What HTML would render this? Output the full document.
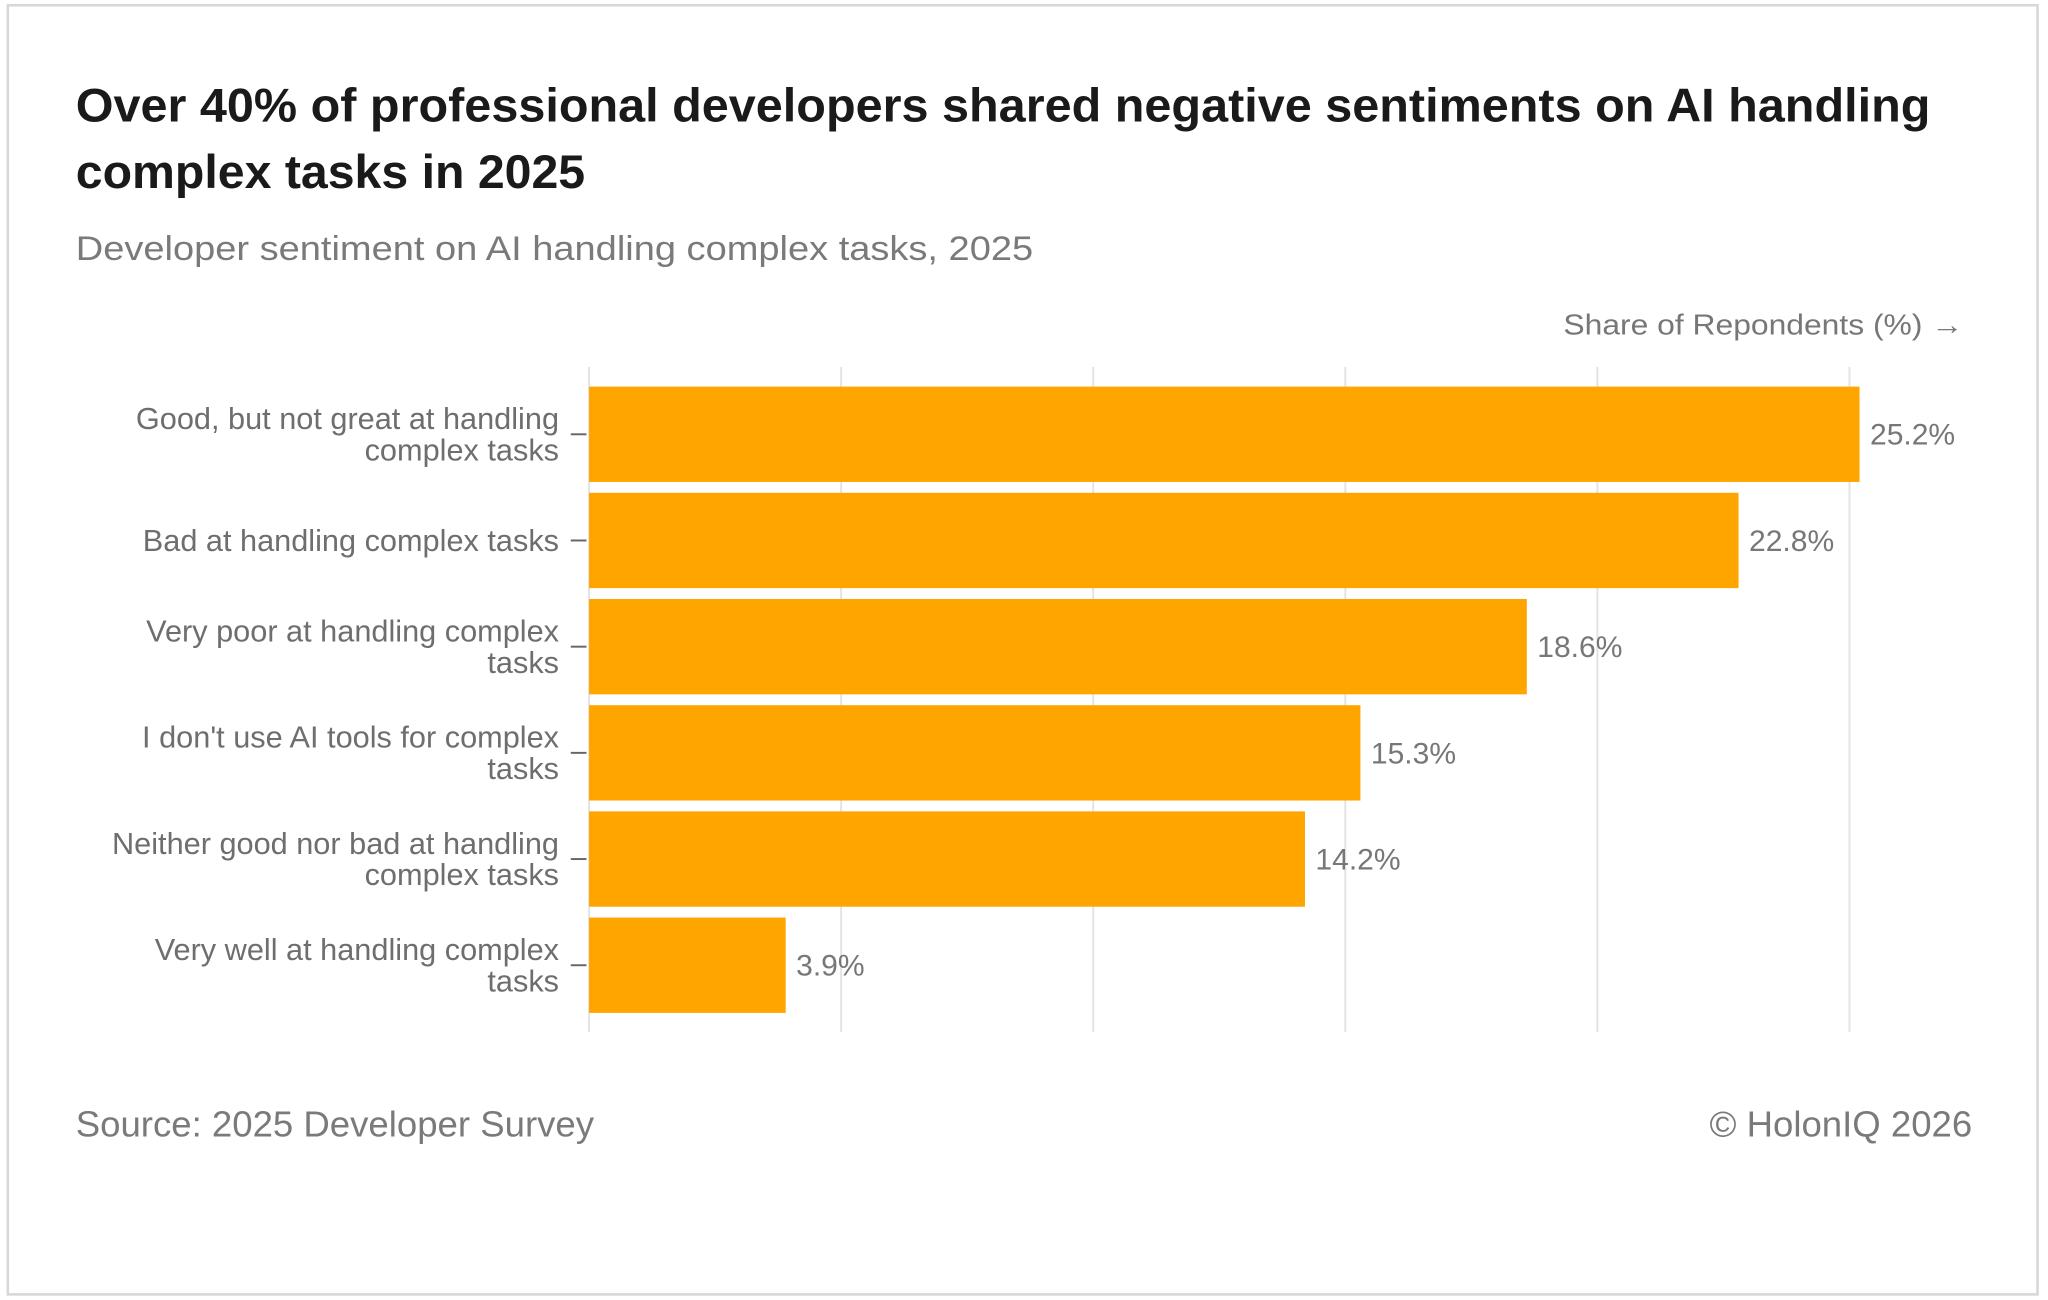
<!DOCTYPE html>
<html><head><meta charset="utf-8"><style>
html,body{margin:0;padding:0;background:#fff;}
svg{display:block;}
text{font-family:"Liberation Sans",sans-serif;}
</style></head><body>
<svg id="chart" width="2048" height="1300" viewBox="0 0 1568 995.3" preserveAspectRatio="none" xmlns="http://www.w3.org/2000/svg">
<rect x="6" y="4" width="1554" height="987" fill="#fff" stroke="#d8d8d8" stroke-width="2"/>
<text x="58" y="93" font-size="36" font-weight="bold" fill="#1a1a1a" textLength="1420" lengthAdjust="spacingAndGlyphs">Over 40% of professional developers shared negative sentiments on AI handling</text>
<text x="58" y="144" font-size="36" font-weight="bold" fill="#1a1a1a" textLength="390" lengthAdjust="spacingAndGlyphs">complex tasks in 2025</text>
<text x="58" y="199" font-size="26" fill="#7a7a7a" textLength="733" lengthAdjust="spacingAndGlyphs">Developer sentiment on AI handling complex tasks, 2025</text>
<text x="1197" y="256" font-size="22" fill="#777" textLength="306" lengthAdjust="spacingAndGlyphs">Share of Repondents (%) →</text>
<g id="grid"></g>
<g id="bars"></g>
<text x="58" y="870" font-size="28" fill="#7a7a7a">Source: 2025 Developer Survey</text>
<text x="1510" y="870" font-size="28" fill="#7a7a7a" text-anchor="end">© HolonIQ 2026</text>
</svg>
<script>
const categories = [["Good, but not great at handling","complex tasks"],["Bad at handling complex tasks"],["Very poor at handling complex","tasks"],["I don't use AI tools for complex","tasks"],["Neither good nor bad at handling","complex tasks"],["Very well at handling complex","tasks"]];
const values = [25.2,22.8,18.6,15.3,14.2,3.9];
const valueLabels = ["25.2%","22.8%","18.6%","15.3%","14.2%","3.9%"];
const gridTicks = [0,5,10,15,20,25];
const NS="http://www.w3.org/2000/svg";
const x0=451, pxPer=38.6;
const xs=v=>x0+v*pxPer;
const bandStart=292, step=81.3, barH=73;
const ys=i=>bandStart+i*step;
function mk(tag,attrs,parent){const e=document.createElementNS(NS,tag);for(const k in attrs)e.setAttribute(k,attrs[k]);parent.appendChild(e);return e;}
const grid=document.getElementById('grid'), bars=document.getElementById('bars');
gridTicks.forEach(t=>{
  const l=mk('line',{x1:xs(t),x2:xs(t),y1:281,y2:790,stroke:'#e3e3e3','stroke-width':1.5},grid);
  
  
});
values.forEach((v,i)=>{
  const y=ys(i)+4;
  const r=mk('rect',{x:x0,y:y,width:xs(v)-x0,height:barH,fill:'#ffa500'},bars);
  
  
  const cy=y+barH/2;
  const vl=mk('text',{x:xs(v)+8,y:cy+8,'font-size':23,fill:'#777'},bars);
  vl.textContent=valueLabels[i];
  
  
  const tk=mk('line',{x1:437,x2:449,y1:cy,y2:cy,stroke:'#666','stroke-width':1.5},bars);
  
  
  const lines=categories[i];
  const t=mk('text',{x:428,'font-size':23.5,fill:'#6e6e6e','text-anchor':'end'},bars);
  
  
  const startY = lines.length===1 ? cy+8 : cy-4;
  lines.forEach((ln,j)=>{const ts=mk('tspan',{x:428,y:startY+j*24},t);ts.textContent=ln;});
});
</script>
</body></html>
